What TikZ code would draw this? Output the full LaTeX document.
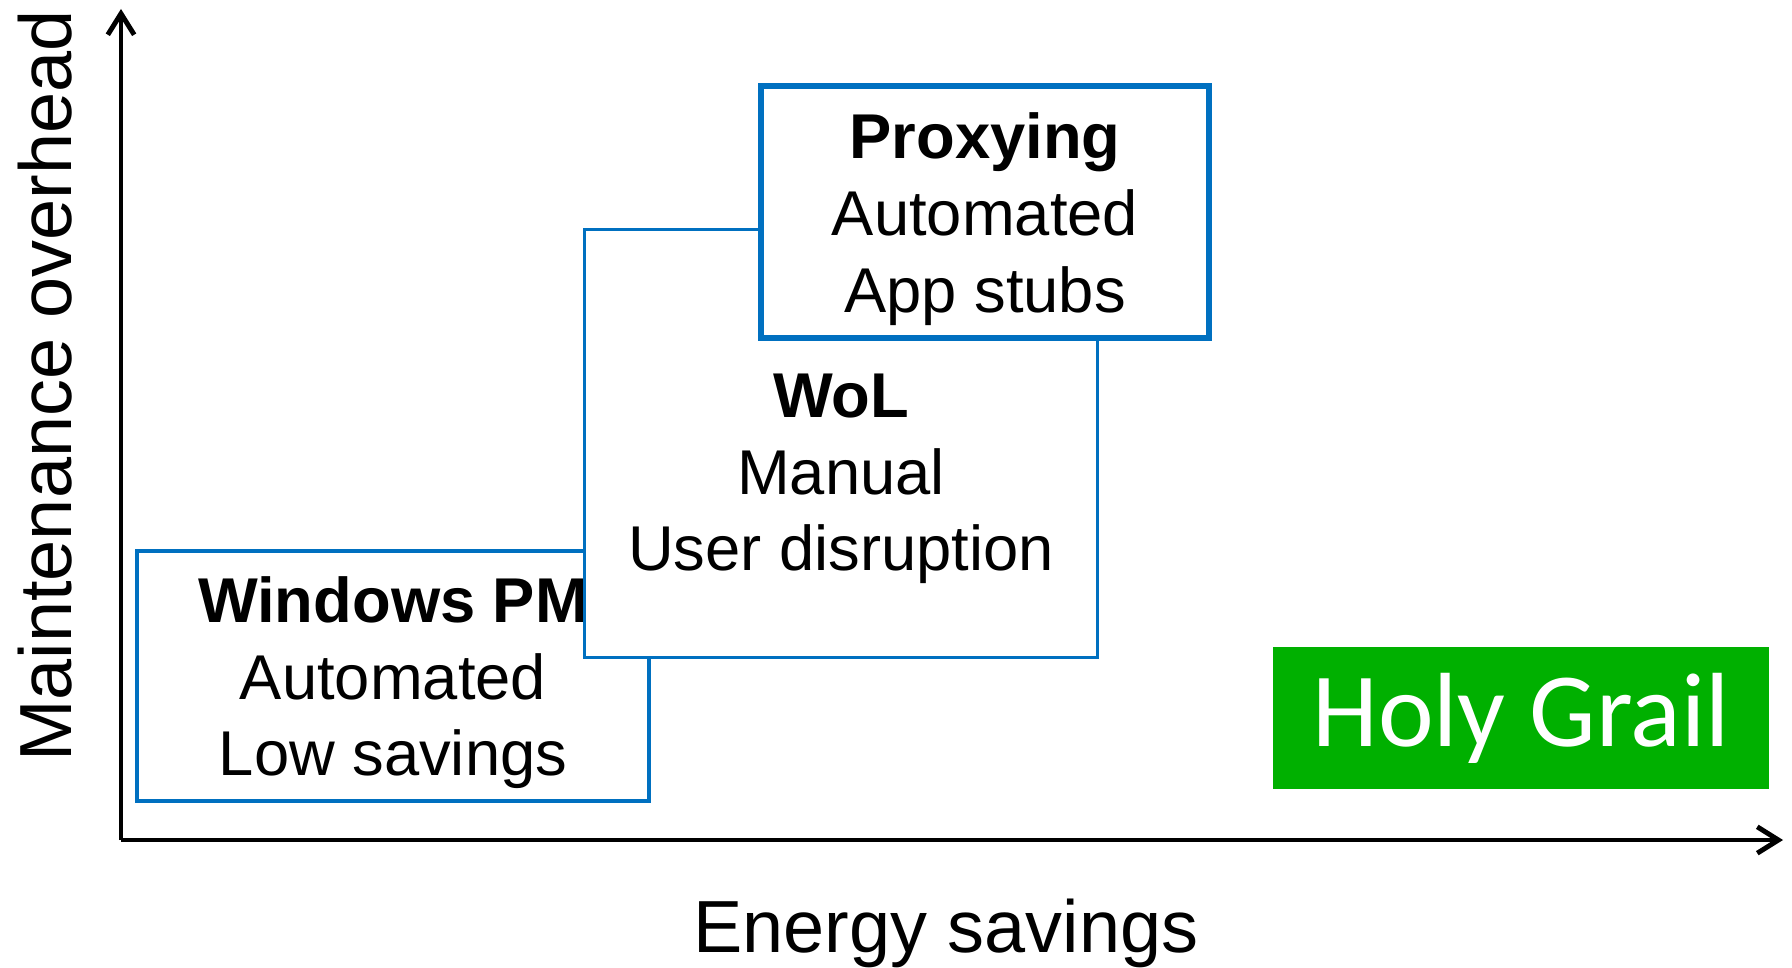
\documentclass[tikz,border=0pt]{standalone}
\usepackage{fontspec}
\setmainfont{Liberation Sans}
\newfontfamily\grailfont{Carlito}
\usetikzlibrary{positioning, arrows.meta}
\definecolor{boxblue}{HTML}{0070C0}
\definecolor{grailgreen}{HTML}{00B000}
\tikzset{axis/.style={line width=1.4pt,-{Straight Barb[length=6pt,width=7.5pt]}},
         approach/.style={draw=boxblue,line width=1.1pt,fill=white,inner sep=0pt},
         approachtext/.style={align=center,inner sep=0pt,font=\fontsize{18}{21.8}\selectfont},
         axislabel/.style={inner sep=0pt,anchor=base,font=\fontsize{21}{25}\selectfont},
         grail/.style={fill=grailgreen,text=white,inner sep=0pt,font=\grailfont\fontsize{30}{36}\selectfont},
        }

\begin{document}
\begin{tikzpicture}[x=0.01cm,y=-0.01cm]
        \useasboundingbox(0,0)rectangle(1792,967);
        \coordinate(o)at(121,840);
        \coordinate(ytip)at(121,9);
        \coordinate(xtip)at(1783,840);
        \draw[axis](o)--(ytip);
        \draw[axis](o)--(xtip);
        \node[axislabel](xlab)at(946,952){Energy savings};
        \node[axislabel,rotate=90](ylab)at(71,386){Maintenance overhead};

        \node[approach,minimum width=5.12cm,minimum height=2.5cm](pm)at(393,676){};
        \node[approachtext,below=0.27cm of pm.north](pmtext){\textbf{Windows PM}\\Automated\\Low savings};
        \node[approach,line width=0.9pt,minimum width=5.12cm,minimum height=4.27cm](wol)at(841,443.5){};
        \node[approachtext,below=1.45cm of wol.north](woltext){\textbf{WoL}\\Manual\\User disruption};
        \node[approach,line width=1.6pt,minimum width=4.48cm,minimum height=2.52cm](proxy)at(985,212){};
        \node[approachtext,below=0.29cm of proxy.north](proxytext){\textbf{Proxying}\\Automated\\App stubs};

        \node[grail,minimum width=4.96cm,minimum height=1.42cm](holy)at(1521,718){Holy Grail};
    \end{tikzpicture}
\end{document}
